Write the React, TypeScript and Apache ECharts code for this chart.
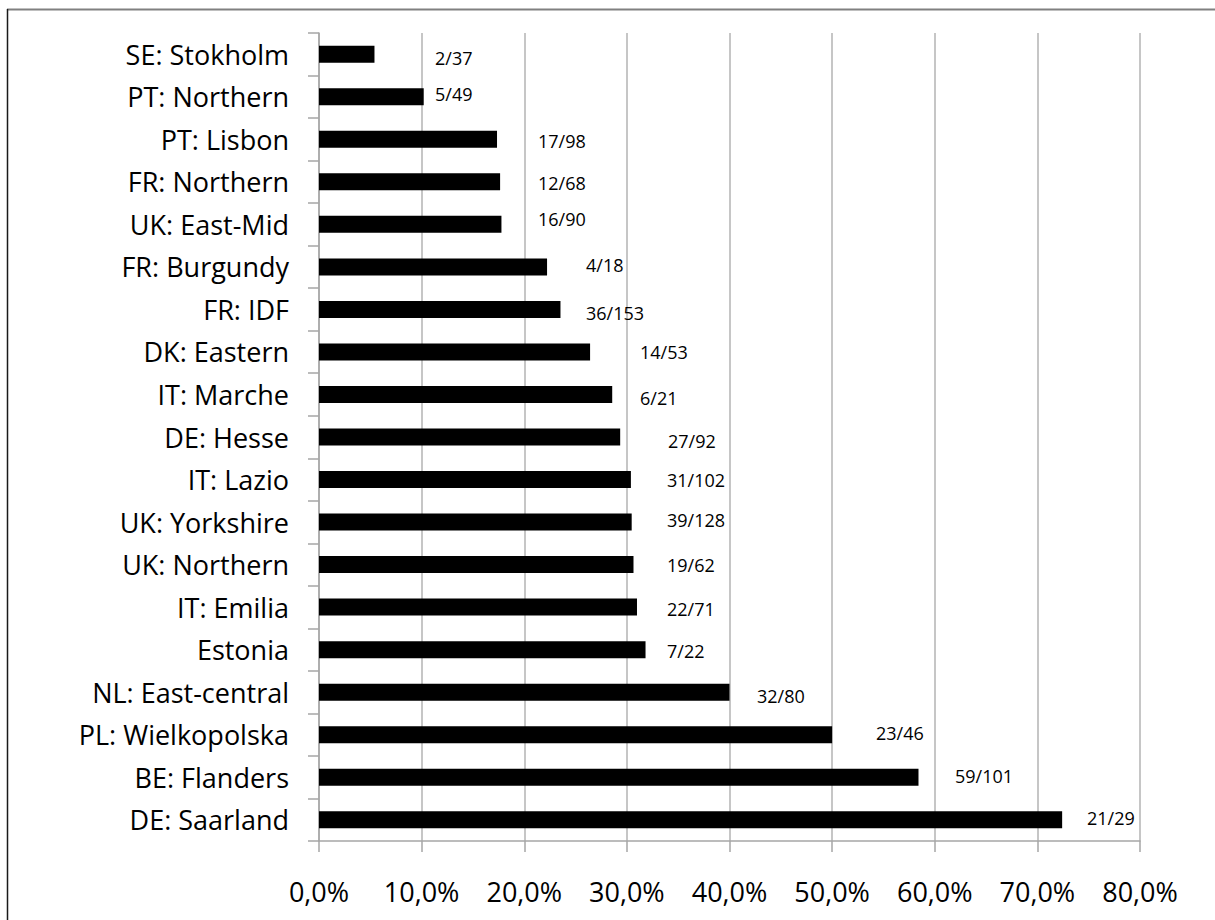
import React, { useEffect, useRef } from "react";
import * as echarts from "echarts";

const categories = [
  "SE: Stokholm",
  "PT: Northern",
  "PT: Lisbon",
  "FR: Northern",
  "UK: East-Mid",
  "FR: Burgundy",
  "FR: IDF",
  "DK: Eastern",
  "IT: Marche",
  "DE: Hesse",
  "IT: Lazio",
  "UK: Yorkshire",
  "UK: Northern",
  "IT: Emilia",
  "Estonia",
  "NL: East-central",
  "PL: Wielkopolska",
  "BE: Flanders",
  "DE: Saarland",
];
const numerators = [2, 5, 17, 12, 16, 4, 36, 14, 6, 27, 31, 39, 19, 22, 7, 32, 23, 59, 21];
const denominators = [37, 49, 98, 68, 90, 18, 153, 53, 21, 92, 102, 128, 62, 71, 22, 80, 46, 101, 29];
const xTicks = [0, 10, 20, 30, 40, 50, 60, 70, 80];

// Label placement (style/layout only): left edge of each label, px from the value axis origin, and a small vertical nudge
const labelInsetX = [116, 116, 219, 219, 219, 267, 267, 321, 321, 349, 348, 348, 348, 348, 348, 438, 557, 636, 768];
const labelNudgeY = [4, -3, 2, 1, -5, -2, 4, 0, 4, 4, 0, -2, 0, 2, 1, 4, -2, -1, -2];

const percents = numerators.map((n, i) => (n / denominators[i]) * 100);

const FONT = "'Open Sans', 'Noto Sans', sans-serif";
const GRID_COLOR = "#b3b3b3";
const AXIS_COLOR = "#a6a6a6";
const BAR_W = 17;

export default function App() {
  const ref = useRef<HTMLDivElement>(null);
  useEffect(() => {
    if (!ref.current) return;
    const chart = echarts.init(ref.current, undefined, { renderer: "svg" });
    chart.setOption({
      animation: false,
      backgroundColor: "#ffffff",
      grid: { left: 319, right: 75, top: 33, bottom: 79, containLabel: false },
      xAxis: {
        type: "value",
        min: xTicks[0],
        max: xTicks[xTicks.length - 1],
        interval: xTicks[1] - xTicks[0],
        axisLine: { show: true, lineStyle: { color: AXIS_COLOR, width: 1.5 } },
        axisTick: { show: true, length: 11, lineStyle: { color: AXIS_COLOR, width: 1.5 } },
        splitLine: { show: true, lineStyle: { color: GRID_COLOR, width: 1.5 } },
        axisLabel: {
          color: "#000",
          fontFamily: FONT,
          fontSize: 27,
          margin: 37,
          formatter: (v: number) => v.toFixed(1).replace(".", ",") + "%",
        },
      },
      yAxis: {
        type: "category",
        inverse: true,
        data: categories,
        axisLine: { show: true, lineStyle: { color: AXIS_COLOR, width: 1.5 } },
        axisTick: { show: true, length: 11, interval: 0, lineStyle: { color: AXIS_COLOR, width: 1.5 } },
        splitLine: { show: false },
        axisLabel: {
          interval: 0,
          color: "#000",
          fontFamily: FONT,
          fontSize: 27,
          margin: 30,
        },
      },
      series: [
        {
          type: "bar",
          barWidth: BAR_W,
          itemStyle: { color: "#000" },
          data: percents.map((v, i) => ({
            value: v,
            label: { position: [labelInsetX[i], BAR_W / 2 + labelNudgeY[i]] },
          })),
          label: {
            show: true,
            color: "#000",
            fontFamily: FONT,
            fontSize: 18,
            align: "left",
            verticalAlign: "middle",
            formatter: (p: any) => `${numerators[p.dataIndex]}/${denominators[p.dataIndex]}`,
          },
        },
      ],
      graphic: [
        {
          type: "line",
          shape: { x1: 7, y1: 9.5, x2: 1215, y2: 9.5 },
          style: { stroke: "#808080", lineWidth: 2 },
        },
        {
          type: "line",
          shape: { x1: 7.5, y1: 9, x2: 7.5, y2: 920 },
          style: { stroke: "#1a1a1a", lineWidth: 1.5 },
        },
      ],
    });
    return () => chart.dispose();
  }, []);
  return (
    <div
      ref={ref}
      style={{ position: "absolute", left: 0, top: 0, width: 1215, height: 920 }}
    />
  );
}
